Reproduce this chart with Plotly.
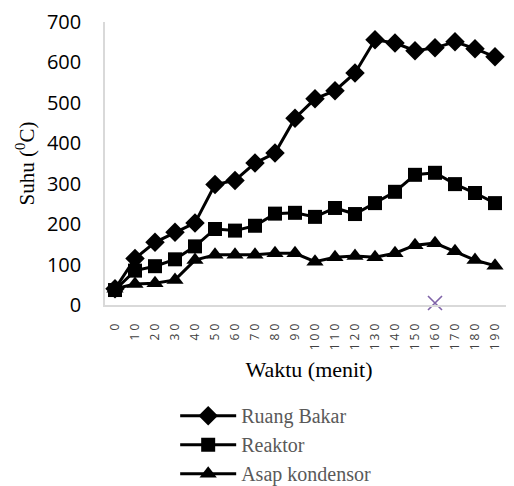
import plotly.graph_objects as go

waktu = ["0", "10", "20", "30", "40", "50", "60", "70", "80", "90",
         "100", "110", "120", "130", "140", "150", "160", "170", "180", "190"]
ruang_bakar = [40, 115, 155, 180, 203, 298, 308, 351, 376, 462,
               510, 530, 574, 656, 648, 629, 636, 651, 634, 614]
reaktor = [37, 85, 96, 113, 145, 188, 184, 196, 226, 228,
           218, 240, 225, 252, 280, 322, 327, 299, 277, 252]
asap_kondensor = [40, 52, 54, 62, 111, 124, 124, 124, 128, 128,
                  107, 118, 121, 118, 128, 148, 153, 133, 111, 97]
stray_x = ["160"]
stray_y = [5]

ticktext = [" ".join(list(t)) for t in waktu]

fig = go.Figure()
series = [
    ("Ruang Bakar", ruang_bakar, "diamond", 15),
    ("Reaktor", reaktor, "square", 14),
    ("Asap kondensor", asap_kondensor, "triangle-up", 15),
]
for name, vals, sym, sz in series:
    fig.add_trace(go.Scatter(
        x=waktu, y=vals, name=name, mode="lines+markers",
        line=dict(color="black", width=3),
        marker=dict(symbol=sym, size=sz, color="black"),
        cliponaxis=False,
    ))
fig.add_trace(go.Scatter(
    x=stray_x, y=stray_y, mode="markers", showlegend=False,
    cliponaxis=False,
    marker=dict(symbol="x-thin-open", size=14,
                line=dict(color="#7F63A8", width=1.6), color="#7F63A8"),
))

fig.update_layout(
    width=506, height=478,
    margin=dict(l=97, r=1, t=14, b=181, autoexpand=False),
    paper_bgcolor="white", plot_bgcolor="white",
    showlegend=True,
    legend=dict(
        orientation="v", x=0.172, y=-0.322, xanchor="left", yanchor="top",
        font=dict(family="Liberation Serif", size=20, color="#595959"),
        itemwidth=56, tracegroupgap=0, bgcolor="rgba(0,0,0,0)",
    ),
    xaxis=dict(
        type="category", categoryorder="array", categoryarray=waktu,
        range=[-0.5, 19.9], automargin=False,
        tickmode="array", tickvals=waktu, ticktext=ticktext,
        tickangle=-90,
        tickfont=dict(family="Open Sans", size=12, color="#404040"),
        showgrid=False, showline=True, linecolor="#D9D9D9", linewidth=1.5,
        ticks="outside", ticklen=12, tickcolor="rgba(0,0,0,0)",
        zeroline=False,
        title=dict(text="Waktu (menit)",
                   font=dict(family="Liberation Serif", size=22, color="black"),
                   standoff=12),
    ),
    yaxis=dict(
        range=[0, 700], tickmode="linear", dtick=100, automargin=False,
        tickfont=dict(family="Open Sans", size=20, color="black"),
        showgrid=False, showline=True, linecolor="#D9D9D9", linewidth=1.5,
        ticks="outside", ticklen=18, tickcolor="rgba(0,0,0,0)",
        zeroline=False,
        title=dict(text="Suhu (<sup>0</sup>C)",
                   font=dict(family="Liberation Serif", size=21, color="black"),
                   standoff=7),
    ),
)

fig.write_html("out.html")
